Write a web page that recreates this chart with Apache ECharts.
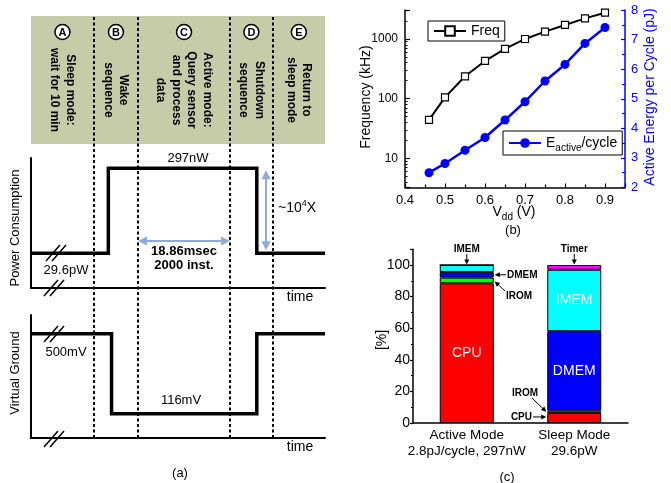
<!DOCTYPE html>
<html><head><meta charset="utf-8">
<script src="https://cdn.jsdelivr.net/npm/echarts@6/dist/echarts.min.js"></script>
<style>html,body{margin:0;padding:0;background:#fff}#main{width:671px;height:483px}</style>
</head><body><div id="main"></div>
<script>
// ---------- data ----------
// (a) schematic timeline, time in arbitrary units 0..100
const phaseEdges = [0, 21.4, 36.4, 67.7, 82.2, 100];
const phaseBounds = [21.4, 36.4, 67.7, 82.2];
const phaseLetters = ['A', 'B', 'C', 'D', 'E'];
const phaseTexts = [
  'Sleep mode:\nwait for 10 min',
  'Wake\nsequence',
  'Active mode:\nQuery sensor\nand process\ndata',
  'Shutdown\nsequence',
  'Return to\nsleep mode'
];
const powerTime = [0, 26.3, 26.3, 76.8, 76.8, 100];
const powerWatts = [29.6e-12, 29.6e-12, 297e-9, 297e-9, 29.6e-12, 29.6e-12];
const vgTime = [0, 27.4, 27.4, 76.8, 76.8, 100];
const vgMilliVolts = [500, 500, 116, 116, 500, 500];

// (b) frequency and energy vs Vdd
const vdd = [0.46, 0.5, 0.55, 0.6, 0.65, 0.7, 0.75, 0.8, 0.85, 0.9];
const freqKHz = [44, 105, 237, 428, 680, 1000, 1327, 1718, 2218, 2761];
const energyPJ = [2.50, 2.81, 3.26, 3.69, 4.28, 4.90, 5.60, 6.16, 6.87, 7.41];
const freqMajorTicks = [10, 100, 1000];
const freqMinorTicks = [4, 5, 6, 7, 8, 9, 20, 30, 40, 50, 60, 70, 80, 90, 200, 300, 400, 500, 600, 700, 800, 900, 2000, 3000];

// (c) power breakdown [%]
const modes = ['Active Mode\n2.8pJ/cycle, 297nW', 'Sleep Mode\n29.6pW'];
const blocks = ['CPU', 'IROM', 'DMEM', 'IMEM', 'Timer'];
const cpuShare = [88.4, 6.4];
const iromShare = [3.6, 1.4];
const dmemShare = [3.6, 50.3];
const imemShare = [4.4, 38.9];
const timerShare = [0, 3.0];

// ---------- styling ----------
const F = '"Liberation Sans", Arial, Helvetica, sans-serif';
const BLACK = '#000', BLUE = '#0000ff', ARROW = '#8eaadb', HEADER = '#c7cca8';
const blockColors = ['#ff0000', '#00ff00', '#0000ff', '#00ffff', '#ff00ff'];
const shares = [cpuShare, iromShare, dmemShare, imemShare, timerShare];

const plainAxis = (gi, extra) => Object.assign({
  gridIndex: gi,
  axisLine: {show: true, onZero: false, lineStyle: {color: BLACK, width: 2}},
  axisTick: {show: false}, axisLabel: {show: false}, splitLine: {show: false}
}, extra);

const chart = echarts.init(document.getElementById('main'));
const option = {
  animation: false,
  textStyle: {fontFamily: F},
  grid: [
    {left: 31, top: 16, width: 294, height: 128, show: true, backgroundColor: HEADER, borderWidth: 0},
    {left: 31, top: 158, width: 294, height: 130},
    {left: 31, top: 315, width: 294, height: 123},
    {left: 31, top: 16, width: 294, height: 422},
    {left: 405, top: 10, width: 220, height: 177.5},
    {left: 413, top: 249.2, width: 215, height: 173.8}
  ],
  xAxis: [
    {gridIndex: 0, type: 'value', min: 0, max: 100, show: false},
    plainAxis(1, {type: 'value', min: 0, max: 100}),
    plainAxis(2, {type: 'value', min: 0, max: 100}),
    {gridIndex: 3, type: 'value', min: 0, max: 100, show: false},
    {gridIndex: 4, type: 'value', min: 0.4, max: 0.95, interval: 0.1,
      axisLine: {show: true, onZero: false, lineStyle: {color: BLACK, width: 1.5}},
      axisTick: {inside: true, length: 4, lineStyle: {color: BLACK, width: 1.2}},
      minorTick: {show: true, splitNumber: 2, length: 3, lineStyle: {color: BLACK, width: 1.2}},
      axisLabel: {fontSize: 13, color: BLACK, margin: 6, showMaxLabel: false, formatter: v => v.toFixed(1)},
      splitLine: {show: false}},
    {gridIndex: 5, type: 'category', data: modes,
      axisLine: {show: true, onZero: false, lineStyle: {color: BLACK, width: 1.5}},
      axisTick: {alignWithLabel: true, length: 4, interval: 0, lineStyle: {color: BLACK, width: 1.2}},
      axisLabel: {fontSize: 13.5, lineHeight: 16, color: BLACK, margin: 4, interval: 0, hideOverlap: false}}
  ],
  yAxis: [
    {gridIndex: 0, type: 'value', min: 0, max: 1, show: false},
    plainAxis(1, {type: 'log', logBase: 10, min: 6.87e-13, max: 9.08e-7}),
    plainAxis(2, {type: 'value', min: 0, max: 590}),
    {gridIndex: 3, type: 'value', min: 0, max: 1, show: false},
    {gridIndex: 4, type: 'log', logBase: 10, min: 3.24, max: 3060, position: 'left',
      axisLine: {show: true, onZero: false, lineStyle: {color: BLACK, width: 1.5}},
      axisTick: {show: true, inside: true, length: 5, lineStyle: {color: BLACK, width: 1.2}},
      axisLabel: {fontSize: 12, color: BLACK, margin: 7, formatter: v => {
        const r = Math.round(v);
        return freqMajorTicks.indexOf(r) >= 0 && Math.abs(v - r) < 1e-6 * r ? String(r) : '';
      }},
      splitLine: {show: false}},
    {gridIndex: 4, type: 'log', logBase: 10, min: 3.24, max: 3060, position: 'left',
      axisLine: {show: false},
      axisTick: {show: true, inside: true, length: 2.5, customValues: freqMinorTicks, lineStyle: {color: BLACK, width: 1}},
      axisLabel: {show: false}, splitLine: {show: false}},
    {gridIndex: 4, type: 'value', min: 2, max: 8, interval: 1, position: 'right',
      axisLine: {show: true, onZero: false, lineStyle: {color: BLUE, width: 1.5}},
      axisTick: {show: true, inside: true, length: 4, lineStyle: {color: BLUE, width: 1.2}},
      minorTick: {show: true, splitNumber: 2, length: 3, lineStyle: {color: BLUE, width: 1.2}},
      axisLabel: {fontSize: 13, color: BLUE, margin: 6},
      splitLine: {show: false}},
    {gridIndex: 5, type: 'value', min: 0, max: 110, interval: 20,
      axisLine: {show: true, onZero: false, lineStyle: {color: BLACK, width: 1.5}},
      axisTick: {show: true, length: 3, lineStyle: {color: BLACK, width: 1.2}},
      minorTick: {show: true, splitNumber: 2, length: 2, lineStyle: {color: BLACK, width: 1.2}},
      axisLabel: {fontSize: 14, color: BLACK, margin: 3, showMaxLabel: false},
      splitLine: {show: false}}
  ],
  legend: [
    {data: ['Freq'], left: 428, top: 21, selectedMode: false,
      borderColor: BLACK, borderWidth: 1, borderRadius: 0, padding: [3, 5, 3, 5],
      itemWidth: 32, itemHeight: 12, textStyle: {fontSize: 14, color: BLACK}},
    {data: ['Eactive'], left: 503, top: 131, selectedMode: false,
      borderColor: BLACK, borderWidth: 1, borderRadius: 0, padding: [2, 5, 2, 5],
      itemWidth: 32, itemHeight: 12,
      formatter: () => 'E{sub|active}/cycle',
      textStyle: {fontSize: 14, color: BLACK, lineHeight: 20,
        rich: {sub: {fontSize: 10, color: BLACK, verticalAlign: 'bottom', lineHeight: 10}}}}
  ],
  series: [
    {type: 'line', xAxisIndex: 3, yAxisIndex: 3, data: [[0, 0]], symbol: 'none', silent: true,
      lineStyle: {opacity: 0},
      markLine: {silent: true, symbol: ['none', 'none'], label: {show: false},
        lineStyle: {color: BLACK, width: 2, type: [3, 2.5]},
        data: phaseBounds.map(t => ({xAxis: t}))}},
    {type: 'line', xAxisIndex: 1, yAxisIndex: 1, z: 5, symbol: 'none', silent: true,
      data: powerTime.map((t, i) => [t, powerWatts[i]]),
      lineStyle: {color: BLACK, width: 3.5, join: 'miter', cap: 'butt'}},
    {type: 'line', xAxisIndex: 2, yAxisIndex: 2, z: 5, symbol: 'none', silent: true,
      data: vgTime.map((t, i) => [t, vgMilliVolts[i]]),
      lineStyle: {color: BLACK, width: 3.5, join: 'miter', cap: 'butt'}},
    {name: 'Freq', type: 'line', xAxisIndex: 4, yAxisIndex: 4,
      data: vdd.map((v, i) => [v, freqKHz[i]]),
      symbol: 'rect', symbolSize: 7,
      itemStyle: {color: '#fff', borderColor: BLACK, borderWidth: 1.2},
      lineStyle: {color: BLACK, width: 2}},
    {name: 'Eactive', type: 'line', xAxisIndex: 4, yAxisIndex: 6,
      data: vdd.map((v, i) => [v, energyPJ[i]]),
      symbol: 'circle', symbolSize: 9,
      itemStyle: {color: BLUE},
      lineStyle: {color: BLUE, width: 2.5}}
  ].concat(blocks.map((b, k) => ({
    name: b, type: 'bar', stack: 'share', xAxisIndex: 5, yAxisIndex: 7, barWidth: 54,
    data: shares[k],
    itemStyle: {color: blockColors[k], borderColor: BLACK, borderWidth: 1},
    label: {show: true, position: 'inside', color: '#fff', fontSize: 14,
      formatter: p => (p.value >= 30 ? b : '')}
  })))
};
chart.setOption(option);

// ---------- annotations ----------
const G = [];
const font = (size, bold) => (bold ? 'bold ' : '') + size + 'px ' + F;
function txt(x, y, text, size, opts) {
  opts = opts || {};
  G.push({type: 'text', x: x, y: y, z: 30, rotation: opts.rot || 0,
    style: Object.assign({text: text, font: font(size, opts.bold), fill: opts.color || BLACK,
      align: opts.align || 'center', verticalAlign: 'middle'}, opts.style || {})});
}
function arrow(x1, y1, x2, y2, color, w, hl, hw, both) {
  const dx = x2 - x1, dy = y2 - y1, L = Math.hypot(dx, dy), ux = dx / L, uy = dy / L;
  const head = (tx, ty, vx, vy) => ({type: 'polygon', z: 30, shape: {points: [
    [tx, ty], [tx - vx * hl - vy * hw, ty - vy * hl + vx * hw], [tx - vx * hl + vy * hw, ty - vy * hl - vx * hw]]},
    style: {fill: color}});
  const sx = both ? x1 + ux * hl * 0.8 : x1, sy = both ? y1 + uy * hl * 0.8 : y1;
  G.push({type: 'line', z: 30, shape: {x1: sx, y1: sy, x2: x2 - ux * hl * 0.8, y2: y2 - uy * hl * 0.8},
    style: {stroke: color, lineWidth: w}});
  G.push(head(x2, y2, ux, uy));
  if (both) G.push(head(x1, y1, -ux, -uy));
}
function slash(cx, cy) {
  [-3, 3].forEach(o => G.push({type: 'line', z: 30,
    shape: {x1: cx + o - 7, y1: cy + 8, x2: cx + o + 7, y2: cy - 8},
    style: {stroke: BLACK, lineWidth: 1.5}}));
}
const tx = t => chart.convertToPixel({xAxisIndex: 0, yAxisIndex: 0}, [t, 0])[0];

// header
for (let i = 0; i < 5; i++) {
  const cx = tx((phaseEdges[i] + phaseEdges[i + 1]) / 2);
  G.push({type: 'circle', z: 30, shape: {cx: cx, cy: 32, r: 7.5}, style: {fill: '#fff', stroke: BLACK, lineWidth: 1.5}});
  txt(cx, 32.5, phaseLetters[i], 11, {bold: true});
  txt(cx, 90, phaseTexts[i], 12, {bold: true, rot: -Math.PI / 2, style: {lineHeight: 15.5}});
}
// power panel
const pHigh = chart.convertToPixel({xAxisIndex: 1, yAxisIndex: 1}, [0, powerWatts[2]])[1];
const pLow = chart.convertToPixel({xAxisIndex: 1, yAxisIndex: 1}, [0, powerWatts[0]])[1];
txt(188, 158, '297nW', 13);
txt(66, 270, '29.6pW', 13);
txt(184, 258, '18.86msec\n2000 inst.', 13, {bold: true, style: {lineHeight: 14}});
arrow(tx(phaseBounds[1]), 241, tx(phaseBounds[2]), 241, ARROW, 2, 9, 4.5, true);
arrow(266, pHigh + 2, 266, pLow - 3, ARROW, 2, 9, 4.5, true);
txt(278, 208, '~10{sup|4}X', 14, {align: 'left', style: {lineHeight: 18,
  rich: {sup: {fontSize: 9, fontFamily: F, fill: BLACK, verticalAlign: 'top', lineHeight: 9}}}});
txt(300, 297, 'time', 14);
txt(15, 228, 'Power Consumption', 13, {rot: Math.PI / 2});
slash(56, 253); slash(54, 288);
// virtual ground panel
txt(66, 352, '500mV', 13);
txt(181, 400, '116mV', 13);
txt(300, 447, 'time', 14);
txt(15, 373, 'Virtual Ground', 13, {rot: Math.PI / 2});
slash(54, 334); slash(54, 439);
txt(180, 473, '(a)', 13);

// panel b
txt(366, 97, 'Frequency (kHz)', 14, {rot: Math.PI / 2});
txt(650, 97, 'Active Energy per Cycle (pJ)', 14, {rot: Math.PI / 2, color: BLUE});
txt(514, 212, 'V{sub|dd} (V)', 14, {style: {lineHeight: 20,
  rich: {sub: {fontSize: 10, fontFamily: F, fill: BLACK, verticalAlign: 'bottom', lineHeight: 10}}}});
txt(513, 230, '(b)', 13);

// panel c
txt(382, 340, '[%]', 14, {rot: Math.PI / 2});
txt(507, 477, '(c)', 13);
const cp = (i, v) => chart.convertToPixel({xAxisIndex: 5, yAxisIndex: 7}, [i, v]);
const half = 27;
const top0 = cp(0, 100), top1 = cp(1, 100);
txt(top0[0], 249, 'IMEM', 10, {bold: true});
arrow(top0[0], 254, top0[0], top0[1] - 0.5, BLACK, 1, 5, 2.5, false);
txt(top1[0], 249, 'Timer', 10, {bold: true});
arrow(top1[0], 254, top1[0], top1[1] - 0.5, BLACK, 1, 5, 2.5, false);
const aDmem = cp(0, cpuShare[0] + iromShare[0] + dmemShare[0] / 2);
txt(507, aDmem[1], 'DMEM', 10, {bold: true, align: 'left'});
arrow(506, aDmem[1], aDmem[0] + half + 1, aDmem[1], BLACK, 1, 5, 2.5, false);
const aIrom = cp(0, cpuShare[0] + iromShare[0] / 2);
txt(506, 296, 'IROM', 10, {bold: true, align: 'left'});
arrow(505, 291, aIrom[0] + half + 1, aIrom[1] + 1, BLACK, 1, 5, 2.5, false);
const sIrom = cp(1, cpuShare[1] + iromShare[1] / 2);
txt(525, 393, 'IROM', 10, {bold: true});
arrow(532, 398, sIrom[0] - half - 1, sIrom[1], BLACK, 1, 5, 2.5, false);
const sCpu = cp(1, cpuShare[1] / 2);
txt(532, sCpu[1] - 1, 'CPU', 10, {bold: true, align: 'right'});
arrow(533, sCpu[1] - 1, sCpu[0] - half - 1, sCpu[1] - 1, BLACK, 1, 5, 2.5, false);

chart.setOption({graphic: {elements: G}});
</script>
</body></html>
